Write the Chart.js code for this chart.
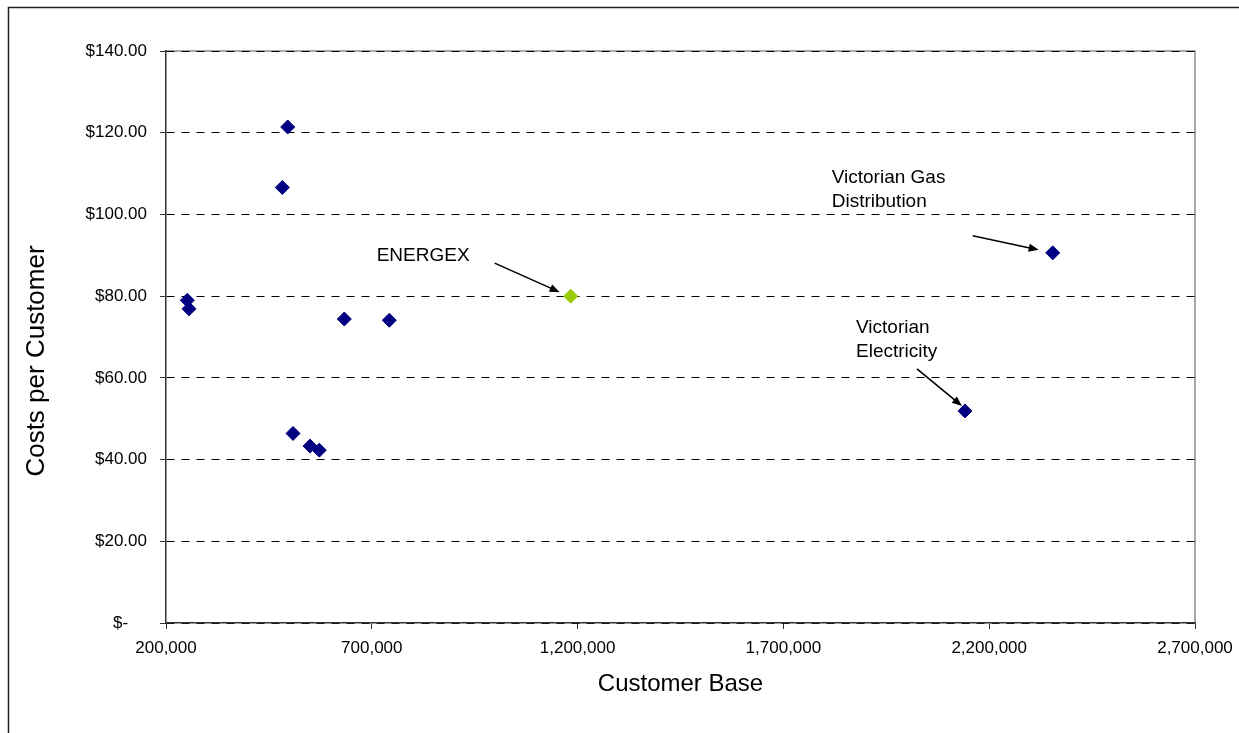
<!DOCTYPE html>
<html>
<head>
<meta charset="utf-8">
<script src="https://cdn.jsdelivr.net/npm/chart.js@4"></script>
<style>
  html, body { margin: 0; padding: 0; background: #fff; }
  #costChart { display: block; }
</style>
</head>
<body>
<canvas id="costChart" width="1239" height="733"></canvas>
<script>
// customer base vs cost per customer
const customerBase = [251800, 255900, 495700, 482600, 508600, 549900, 572400, 633200, 742500, 2354300, 2141200];
const costPerCustomer = [79.0, 76.9, 121.4, 106.6, 46.4, 43.3, 42.3, 74.4, 74.1, 90.6, 51.9];
const energexBase = [1183200];
const energexCost = [80.0];

const xTicks = [200000, 700000, 1200000, 1700000, 2200000, 2700000];
const yTicks = [0, 20, 40, 60, 80, 100, 120, 140];

// which point each callout refers to: [dataset, index, text lines]
const callouts = [
    [1, 0, ['ENERGEX']],
    [0, 9, ['Victorian Gas', 'Distribution']],
    [0, 10, ['Victorian', 'Electricity']]
];

document.addEventListener('DOMContentLoaded', function() {

    const FONT = '"Liberation Sans", Arial, sans-serif';

    // pixel offsets of callout text / arrow relative to its point
    const calloutLayout = [
        { text: [-194, -40], tail: [-76, -33], head: [-11, -4] },
        { text: [-221, -75], tail: [-80, -17], head: [-14, -3] },
        { text: [-109, -83], tail: [-48, -42], head: [-3, -5] }
    ];

    const framePlugin = {
        id: 'frame',
        beforeDraw(chart) {
            const ctx = chart.ctx;
            const a = chart.chartArea;
            ctx.save();
            ctx.fillStyle = '#fff';
            ctx.fillRect(0, 0, chart.width, chart.height);
            // outer chart border
            ctx.strokeStyle = '#222';
            ctx.lineWidth = 1.5;
            ctx.strokeRect(8.5, 7.5, chart.width + 20, chart.height + 20);
            // plot area border (top / right)
            ctx.strokeStyle = '#8c8c8c';
            ctx.lineWidth = 1.5;
            ctx.beginPath();
            ctx.moveTo(a.left, a.top);
            ctx.lineTo(a.right, a.top);
            ctx.lineTo(a.right, a.bottom);
            ctx.stroke();
            ctx.restore();
        },
        afterDraw(chart) {
            const ctx = chart.ctx;
            ctx.save();
            ctx.fillStyle = '#000';
            ctx.font = '26px ' + FONT;
            ctx.textAlign = 'center';
            ctx.textBaseline = 'middle';
            ctx.translate(37, 361);
            ctx.rotate(-Math.PI / 2);
            ctx.fillText('Costs per Customer', 0, 0);
            ctx.restore();
        }
    };

    const calloutPlugin = {
        id: 'callouts',
        afterDatasetsDraw(chart) {
            const ctx = chart.ctx;
            ctx.save();
            ctx.fillStyle = '#000';
            ctx.strokeStyle = '#000';
            ctx.font = '19px ' + FONT;
            ctx.textAlign = 'left';
            ctx.textBaseline = 'middle';
            callouts.forEach(function(c, i) {
                const pt = chart.getDatasetMeta(c[0]).data[c[1]];
                const lay = calloutLayout[i];
                c[2].forEach(function(line, j) {
                    ctx.fillText(line, pt.x + lay.text[0], pt.y + lay.text[1] + j * 24);
                });
                const x1 = pt.x + lay.tail[0], y1 = pt.y + lay.tail[1];
                const x2 = pt.x + lay.head[0], y2 = pt.y + lay.head[1];
                const ang = Math.atan2(y2 - y1, x2 - x1);
                const hl = 10, hw = 4;
                ctx.lineWidth = 1.6;
                ctx.beginPath();
                ctx.moveTo(x1, y1);
                ctx.lineTo(x2 - Math.cos(ang) * hl * 0.8, y2 - Math.sin(ang) * hl * 0.8);
                ctx.stroke();
                ctx.beginPath();
                ctx.moveTo(x2, y2);
                ctx.lineTo(x2 - Math.cos(ang) * hl + Math.sin(ang) * hw, y2 - Math.sin(ang) * hl - Math.cos(ang) * hw);
                ctx.lineTo(x2 - Math.cos(ang) * hl - Math.sin(ang) * hw, y2 - Math.sin(ang) * hl + Math.cos(ang) * hw);
                ctx.closePath();
                ctx.fill();
            });
            ctx.restore();
        }
    };

    const ctx = document.getElementById('costChart').getContext('2d');
    const costChart = new Chart(ctx, {
        type: 'scatter',
        data: {
            datasets: [{
                label: 'Distributors',
                data: customerBase.map((x, i) => ({ x: x, y: costPerCustomer[i] })),
                pointStyle: 'rectRot',
                pointRadius: 7,
                pointBackgroundColor: '#000080',
                pointBorderColor: '#000080',
                pointBorderWidth: 1
            }, {
                label: 'ENERGEX',
                data: energexBase.map((x, i) => ({ x: x, y: energexCost[i] })),
                pointStyle: 'rectRot',
                pointRadius: 7,
                pointBackgroundColor: '#99cc00',
                pointBorderColor: '#99cc00',
                pointBorderWidth: 1
            }]
        },
        options: {
            responsive: false,
            animation: false,
            layout: {
                padding: { top: 51, right: 44, left: 0, bottom: 0 }
            },
            plugins: {
                legend: { display: false },
                tooltip: { enabled: false }
            },
            scales: {
                x: {
                    type: 'linear',
                    min: xTicks[0],
                    max: xTicks[xTicks.length - 1],
                    afterBuildTicks: function(scale) {
                        scale.ticks = xTicks.map(v => ({ value: v }));
                    },
                    afterFit: function(scale) {
                        scale.height = 110;
                        scale.paddingLeft = 0;
                        scale.paddingRight = 0;
                    },
                    grid: {
                        drawOnChartArea: false,
                        tickLength: 6,
                        tickColor: '#333',
                        color: '#333'
                    },
                    border: { color: '#333', width: 1.5 },
                    ticks: {
                        color: '#000',
                        padding: 9,
                        maxRotation: 0,
                        font: { family: FONT, size: 17 },
                        callback: v => v.toLocaleString('en-US')
                    },
                    title: {
                        display: true,
                        text: 'Customer Base',
                        color: '#000',
                        font: { family: FONT, size: 24 },
                        padding: { top: 0, bottom: 34 }
                    }
                },
                y: {
                    min: yTicks[0],
                    max: yTicks[yTicks.length - 1],
                    afterBuildTicks: function(scale) {
                        scale.ticks = yTicks.map(v => ({ value: v }));
                    },
                    afterFit: function(scale) { scale.width = 166; },
                    grid: {
                        color: '#000',
                        lineWidth: 1,
                        tickLength: 6,
                        tickColor: '#333',
                        tickBorderDash: []
                    },
                    border: { color: '#333', width: 1.5, dash: [8, 7] },
                    ticks: {
                        color: '#000',
                        padding: 13,
                        font: { family: FONT, size: 17 },
                        callback: v => v === 0 ? '$-\u2007\u2007' : '$' + v.toFixed(2)
                    }
                }
            }
        },
        plugins: [framePlugin, calloutPlugin]
    });
});
</script>
</body>
</html>
